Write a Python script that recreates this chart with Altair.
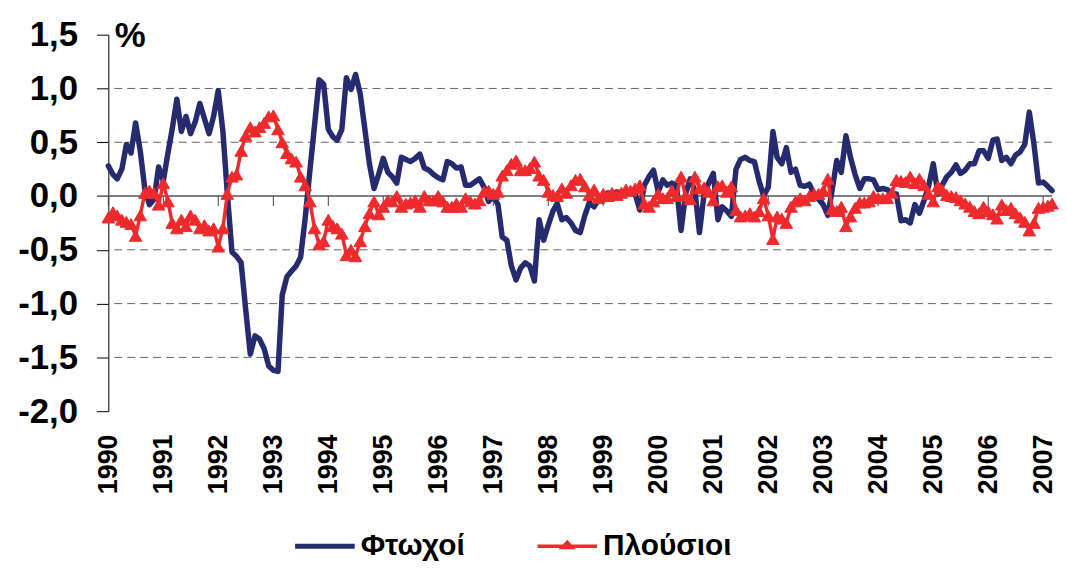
import altair as alt
import pandas as pd

series_names = ["Φτωχοί", "Πλούσιοι"]
years = list(range(1990, 2008))
y_ticks = [-2.0, -1.5, -1.0, -0.5, 0.0, 0.5, 1.0, 1.5]
grid_values = [1.0, 0.5, -0.5, -1.0, -1.5]

poor = [
    0.28, 0.20, 0.16, 0.25, 0.48, 0.40, 0.68, 0.42, 0.06, -0.08, -0.03, 0.27,
    0.14, 0.40, 0.62, 0.90, 0.60, 0.74, 0.58, 0.69, 0.86, 0.72, 0.58, 0.74,
    0.98, 0.60, 0.03, -0.52, -0.56, -0.62, -1.05, -1.47, -1.30, -1.33, -1.42, -1.58,
    -1.62, -1.63, -0.92, -0.75, -0.70, -0.65, -0.57, -0.20, 0.24, 0.65, 1.08, 1.04,
    0.62, 0.55, 0.52, 0.62, 1.10, 0.99, 1.13, 0.95, 0.62, 0.30, 0.07, 0.20,
    0.35, 0.22, 0.18, 0.12, 0.36, 0.34, 0.32, 0.35, 0.39, 0.26, 0.24, 0.20,
    0.17, 0.15, 0.32, 0.30, 0.26, 0.27, 0.10, 0.10, 0.13, 0.16, 0.08, -0.05,
    0.00, -0.08, -0.38, -0.41, -0.65, -0.78, -0.67, -0.62, -0.65, -0.79, -0.22, -0.41,
    -0.27, -0.14, -0.07, -0.22, -0.20, -0.25, -0.32, -0.34, -0.18, -0.06, -0.10, -0.03,
    0.00, 0.03, 0.01, 0.04, 0.02, 0.04, 0.05, 0.02, -0.13, 0.10, 0.18, 0.24,
    0.04, 0.15, 0.10, 0.12, 0.10, -0.32, 0.02, 0.16, 0.05, -0.34, 0.02, 0.12,
    0.21, -0.22, -0.10, -0.14, -0.19, 0.25, 0.34, 0.36, 0.33, 0.32, 0.14, 0.00,
    0.08, 0.60, 0.36, 0.30, 0.45, 0.22, 0.25, 0.10, 0.09, 0.11, 0.02, -0.03,
    -0.08, -0.18, 0.05, 0.33, 0.22, 0.56, 0.36, 0.20, 0.07, 0.16, 0.16, 0.15,
    0.06, 0.07, 0.06, 0.02, 0.02, -0.23, -0.22, -0.25, -0.08, -0.16, -0.04, 0.09,
    0.30, 0.02, 0.10, 0.18, 0.22, 0.29, 0.21, 0.24, 0.30, 0.30, 0.42, 0.42,
    0.35, 0.52, 0.53, 0.33, 0.36, 0.30, 0.38, 0.41, 0.48, 0.78, 0.48, 0.12,
    0.13, 0.09, 0.05,
]

rich = [
    -0.20, -0.15, -0.18, -0.22, -0.24, -0.26, -0.37, -0.18, 0.03, 0.05, 0.03, -0.08,
    0.12, -0.05, -0.25, -0.30, -0.22, -0.28, -0.18, -0.22, -0.30, -0.27, -0.32, -0.30,
    -0.47, -0.30, 0.02, 0.18, 0.20, 0.42, 0.56, 0.64, 0.60, 0.64, 0.68, 0.74,
    0.75, 0.62, 0.50, 0.40, 0.35, 0.32, 0.18, 0.10, -0.05, -0.30, -0.45, -0.42,
    -0.22, -0.28, -0.30, -0.35, -0.55, -0.50, -0.56, -0.42, -0.28, -0.16, -0.05, -0.17,
    -0.10, -0.04, -0.05, 0.00, -0.10, -0.07, -0.06, -0.04, -0.10, 0.00, -0.04, -0.04,
    0.00, -0.05, -0.10, -0.10, -0.07, -0.10, -0.02, -0.05, -0.07, -0.04, 0.04, 0.05,
    0.02, 0.04, 0.19, 0.24, 0.30, 0.33, 0.24, 0.24, 0.26, 0.32, 0.19, 0.15,
    0.04, 0.01, 0.00, 0.07, 0.03, 0.10, 0.15, 0.16, 0.09, 0.01, 0.06, -0.02,
    0.02, 0.00, 0.03, 0.01, 0.03, 0.06, 0.05, 0.07, 0.10, -0.07, -0.10, -0.05,
    0.02, -0.02, -0.02, 0.05, 0.00, 0.18, 0.00, -0.03, 0.18, 0.07, 0.08, 0.04,
    -0.04, 0.09, 0.10, 0.04, 0.09, -0.13, -0.19, -0.18, -0.16, -0.19, -0.14, -0.02,
    -0.18, -0.40, -0.19, -0.21, -0.25, -0.10, -0.05, -0.02, -0.04, 0.00, 0.02, 0.02,
    0.05, 0.16, -0.12, -0.14, -0.10, -0.28, -0.19, -0.11, -0.06, -0.06, -0.05, 0.00,
    -0.02, -0.02, -0.02, 0.03, 0.15, 0.14, 0.13, 0.18, 0.12, 0.16, 0.10, 0.02,
    -0.05, 0.09, 0.06, 0.01, 0.00, -0.01, -0.04, -0.07, -0.10, -0.14, -0.16, -0.10,
    -0.14, -0.17, -0.21, -0.08, -0.13, -0.11, -0.16, -0.20, -0.24, -0.32, -0.25, -0.11,
    -0.10, -0.09, -0.07,
]

BLUE = "#262a6e"
RED = "#ee2a2c"
FONT = "Liberation Sans"

months = pd.date_range("1990-01-01", periods=len(poor), freq="MS")
poor_df = pd.DataFrame({"date": months, "value": poor, "series": series_names[0]})
rich_df = pd.DataFrame({"date": months, "value": rich, "series": series_names[1]})
grid_df = pd.DataFrame({"value": grid_values})
zero_df = pd.DataFrame({"value": [0.0]})
tick_df = pd.DataFrame({"date": pd.to_datetime([f"{y}-01-01" for y in years]), "value": 0.0})
legend_df = pd.DataFrame({"series": series_names})

x_scale = alt.Scale(domain=[alt.DateTime(year=1990, month=1, date=1),
                            alt.DateTime(year=2007, month=3, date=1)])
y_scale = alt.Scale(domain=[-2.0, 1.5], nice=False, zero=False)

x_axis = alt.Axis(
    values=[alt.DateTime(year=y, month=1, date=1) for y in years],
    format="%Y", labelAngle=-90, labelFont=FONT, labelFontSize=27,
    labelFontWeight="bold", labelColor="black", labelPadding=23,
    ticks=False, domain=False, grid=False, labelOverlap=False,
    labelFlush=False, labelBound=False, title=None,
)
y_axis = alt.Axis(
    values=y_ticks,
    labelExpr="replace(replace(format(datum.value, '.1f'), '.', ','), '\u2212', '-')",
    labelFont=FONT, labelFontSize=35, labelFontWeight="bold", labelColor="black",
    labelPadding=19, tickSize=12, tickColor="black", domainColor="black",
    domainWidth=1, grid=False, title="%", titleAngle=0, titleX=6, titleY=12,
    titleAlign="left", titleBaseline="alphabetic", titleFont=FONT,
    titleFontSize=35, titleFontWeight="bold", titleColor="black",
)

x_enc = alt.X("date:T", scale=x_scale, axis=x_axis)
y_enc = alt.Y("value:Q", scale=y_scale, axis=y_axis)

grid = alt.Chart(grid_df).mark_rule(color="#666666", strokeWidth=1, strokeDash=[8, 5]).encode(y=y_enc)
zero = alt.Chart(zero_df).mark_rule(color="#555555", strokeWidth=1.5).encode(y=y_enc)
yticks = alt.Chart(tick_df).mark_tick(orient="vertical", size=10, thickness=1,
                                      yOffset=5, color="#444444", opacity=1).encode(x=x_enc, y=y_enc)

blue_line = alt.Chart(poor_df).mark_line(color=BLUE, strokeWidth=5.5, strokeJoin="round",
                                         strokeCap="round").encode(x=x_enc, y=y_enc)
red_line = alt.Chart(rich_df).mark_line(color=RED, strokeWidth=3.5, strokeJoin="round").encode(x=x_enc, y=y_enc)
red_pts = alt.Chart(rich_df).mark_point(shape="triangle-up", filled=True, size=160, color=RED,
                                        opacity=1, stroke=RED, strokeWidth=1).encode(x=x_enc, y=y_enc)

path_blue = "M-1,-0.085H1V0.085H-1Z"
path_red = "M-1,-0.06H1V0.06H-1Z M-0.29,0.1L0,-0.22L0.29,0.1Z"
legend_def = alt.Legend(
    orient="none", legendX=188, legendY=485, direction="horizontal", title=None,
    labelFont=FONT, labelFontSize=30, labelFontWeight="bold", labelColor="black",
    symbolSize=3600, symbolStrokeWidth=0, labelOffset=6, columnPadding=73,
    padding=0, symbolOpacity=1, labelLimit=400,
)
legend_layer = alt.Chart(legend_df).mark_point(size=0, filled=True, opacity=1).encode(
    fill=alt.Fill("series:N", scale=alt.Scale(domain=series_names, range=[BLUE, RED]), legend=legend_def),
    shape=alt.Shape("series:N", scale=alt.Scale(domain=series_names, range=[path_blue, path_red]), legend=legend_def),
)

chart = alt.layer(grid, zero, yticks, blue_line, red_line, red_pts, legend_layer).properties(
    width=950, height=379,
    autosize=alt.AutoSizeParams(type="none"),
    padding={"left": 101, "top": 25, "right": 7, "bottom": 152},
    background="white",
).configure_view(stroke=None)

chart.save("out.html", embed_options={"renderer": "svg", "actions": False})
